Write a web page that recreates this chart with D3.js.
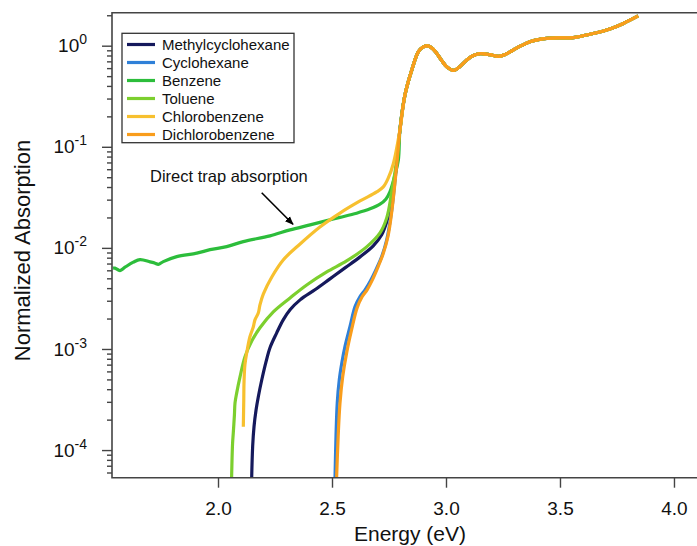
<!DOCTYPE html>
<html>
<head>
<meta charset="utf-8">
<script src="https://cdn.jsdelivr.net/npm/d3@7"></script>
<style>
  html, body { margin: 0; padding: 0; background: #fff; }
  svg { display: block; font-family: "Liberation Sans", Arial, sans-serif; }
</style>
</head>
<body>
<svg id="chart" width="697" height="546"></svg>
<script>
// ---------------- data ----------------
const seriesNames = ["Methylcyclohexane", "Cyclohexane", "Benzene", "Toluene", "Chlorobenzene", "Dichlorobenzene"];
const seriesColors = ["#15195c", "#2f80d8", "#2cbd3b", "#7ccf2e", "#f7c02f", "#f99d1c"];

// shared band-edge / excitonic part (all solvents overlap here)
const commonE = [2.798, 2.820, 2.850, 2.879, 2.899, 2.921, 2.943, 2.959, 2.980, 3.003, 3.035, 3.060, 3.091, 3.120, 3.150, 3.193, 3.230, 3.260, 3.295, 3.330, 3.368, 3.405, 3.442, 3.500, 3.558, 3.617, 3.665, 3.705, 3.745, 3.778, 3.843];
const commonA = [0.147, 0.326, 0.575, 0.873, 0.970, 0.995, 0.928, 0.841, 0.72, 0.620, 0.569, 0.62, 0.722, 0.80, 0.835, 0.815, 0.785, 0.82, 0.907, 1.00, 1.095, 1.15, 1.18, 1.195, 1.20, 1.276, 1.35, 1.43, 1.54, 1.66, 1.97];

const methylE = [2.147, 2.152, 2.158, 2.167, 2.177, 2.192, 2.2105, 2.228, 2.2575, 2.286, 2.316, 2.360, 2.425, 2.491, 2.557, 2.623, 2.681, 2.718, 2.740, 2.762, 2.784];
const methylA = [4.5e-5, 1.09e-4, 1.71e-4, 2.5e-4, 3.39e-4, 4.96e-4, 7.46e-4, 1.03e-3, 1.445e-3, 1.94e-3, 2.44e-3, 3.06e-3, 3.85e-3, 4.94e-3, 6.34e-3, 8.15e-3, 0.01047, 0.01346, 0.0181, 0.0298, 0.0692];

const cycloE = [2.5125, 2.5175, 2.523, 2.532, 2.543, 2.557, 2.579, 2.601, 2.623, 2.645, 2.667, 2.696, 2.718, 2.740, 2.762, 2.784];
const cycloA = [4.5e-5, 1.36e-4, 2.92e-4, 4.96e-4, 7.25e-4, 1.06e-3, 1.67e-3, 2.63e-3, 3.30e-3, 3.85e-3, 4.65e-3, 6.3e-3, 8.2e-3, 0.012, 0.0237, 0.0687];

const benzeneE = [1.5395, 1.548, 1.570, 1.592, 1.6285, 1.658, 1.702, 1.724, 1.738, 1.760, 1.819, 1.907, 1.965, 2.038, 2.111, 2.228, 2.316, 2.404, 2.477, 2.535, 2.608, 2.667, 2.7105, 2.737, 2.754, 2.776, 2.791];
const benzeneA = [6.3e-3, 6.3e-3, 5.97e-3, 6.44e-3, 7.22e-3, 7.66e-3, 7.27e-3, 7.06e-3, 6.87e-3, 7.32e-3, 8.2e-3, 8.87e-3, 9.6e-3, 0.0103, 0.01154, 0.01315, 0.01508, 0.01687, 0.01862, 0.02004, 0.02204, 0.02432, 0.02705, 0.0305, 0.0358, 0.0527, 0.0741];

const tolueneE = [2.059, 2.0636, 2.067, 2.072, 2.0746, 2.082, 2.0965, 2.118, 2.148, 2.184, 2.2425, 2.316, 2.389, 2.477, 2.564, 2.652, 2.7105, 2.740, 2.762, 2.784];
const tolueneA = [4.5e-5, 1.13e-4, 1.48e-4, 2.23e-4, 2.93e-4, 3.68e-4, 5.3e-4, 8.35e-4, 1.2e-3, 1.62e-3, 2.33e-3, 3.2e-3, 4.3e-3, 5.78e-3, 7.43e-3, 0.01023, 0.01406, 0.0198, 0.0358, 0.0741];

const chloroE = [2.111, 2.113, 2.114, 2.118, 2.126, 2.140, 2.155, 2.162, 2.177, 2.184, 2.199, 2.236, 2.286, 2.360, 2.447, 2.535, 2.623, 2.696, 2.725, 2.747, 2.769];
const chloroA = [1.70e-4, 3.14e-4, 4.62e-4, 6.97e-4, 9.16e-4, 1.32e-3, 1.66e-3, 1.94e-3, 2.28e-3, 2.73e-3, 3.51e-3, 5.16e-3, 7.6e-3, 0.01094, 0.0161, 0.0221, 0.0291, 0.0358, 0.0401, 0.0492, 0.068];

const dichloroE = [2.519, 2.527, 2.535, 2.547, 2.564, 2.586, 2.610, 2.632, 2.654, 2.675, 2.702, 2.724, 2.746, 2.763, 2.784];
const dichloroA = [4.5e-5, 1.36e-4, 2.92e-4, 5.34e-4, 9.1e-4, 1.55e-3, 2.55e-3, 3.28e-3, 3.85e-3, 4.72e-3, 6.5e-3, 8.7e-3, 0.01315, 0.0237, 0.066];

const energyTicks = [2.0, 2.5, 3.0, 3.5, 4.0];
const decadeTicks = [1e-4, 1e-3, 1e-2, 1e-1, 1];
const decadeExponents = ["-4", "-3", "-2", "-1", "0"];

const xTitle = "Energy (eV)";
const yTitle = "Normalized Absorption";
const annotationText = "Direct trap absorption";

// ---------------- layout ----------------
const svg = d3.select("#chart");
const pLeft = 112, pTop = 12.7, pRight = 697, pBottom = 477.7;

const x = d3.scaleLinear().domain([1.535, 4.101]).range([pLeft, pRight]);
const y = d3.scaleLog().domain([5.33e-5, 2.12]).range([pBottom, pTop]);

const lowParts = [[methylE, methylA], [cycloE, cycloA], [benzeneE, benzeneA], [tolueneE, tolueneA], [chloroE, chloroA], [dichloroE, dichloroA]];
const series = seriesNames.map((name, i) => {
  const [E, A] = lowParts[i];
  const pts = E.map((e, j) => ({ e, a: A[j] }));
  commonE.forEach((e, j) => pts.push({ e, a: commonA[j] }));
  return { name, color: seriesColors[i], pts };
});

const defs = svg.append("defs");
defs.append("clipPath").attr("id", "plotclip")
  .append("rect").attr("x", pLeft).attr("y", pTop).attr("width", pRight - pLeft).attr("height", pBottom - pTop);

const line = d3.line().x(d => x(d.e)).y(d => y(d.a)).curve(d3.curveCatmullRom.alpha(0.5));

const plot = svg.append("g").attr("clip-path", "url(#plotclip)");
plot.selectAll("path.series").data(series).enter().append("path")
  .attr("class", "series")
  .attr("d", d => line(d.pts))
  .attr("fill", "none")
  .attr("stroke", d => d.color)
  .attr("stroke-width", 3.2)
  .attr("stroke-linejoin", "round")
  .attr("stroke-linecap", "butt");

// ---------------- axes ----------------
const axisColor = "#444";
const minorTicks = [];
for (let p = -5; p <= 0; p++) {
  for (let m = 2; m <= 9; m++) {
    const v = m * Math.pow(10, p);
    if (v >= y.domain()[0] && v <= y.domain()[1]) minorTicks.push(v);
  }
}

const yMinor = svg.append("g").attr("transform", `translate(${pLeft},0)`)
  .call(d3.axisLeft(y).tickValues(minorTicks).tickSize(5).tickFormat(""));
const yMajor = svg.append("g").attr("transform", `translate(${pLeft},0)`)
  .call(d3.axisLeft(y).tickValues(decadeTicks).tickSize(10).tickPadding(15).tickFormat(() => ""));
yMajor.selectAll(".tick text").each(function (d) {
  const t = d3.select(this);
  t.text(null);
  t.append("tspan").text("10");
  t.append("tspan").attr("font-size", 14).attr("dy", -8).text(decadeExponents[decadeTicks.indexOf(d)]);
});
yMajor.selectAll(".tick text").attr("font-size", 19).attr("fill", "#111").attr("font-family", "Liberation Sans, Arial, sans-serif");

const xAxis = svg.append("g").attr("transform", `translate(0,${pBottom})`)
  .call(d3.axisBottom(x).tickValues(energyTicks).tickSize(10).tickPadding(13.5).tickFormat(d3.format(".1f")));
xAxis.selectAll(".tick text").attr("font-size", 19).attr("fill", "#111").attr("font-family", "Liberation Sans, Arial, sans-serif");

[yMinor, yMajor, xAxis].forEach(g => {
  g.selectAll(".domain").remove();
  g.selectAll(".tick line").attr("stroke", axisColor).attr("stroke-width", 1.4);
});

// frame lines: top, left, bottom
svg.append("path")
  .attr("d", `M${pRight},${pTop}H${pLeft}V${pBottom}H${pRight}`)
  .attr("fill", "none").attr("stroke", axisColor).attr("stroke-width", 1.6);

// titles
svg.append("text").attr("x", 410).attr("y", 540.5).attr("text-anchor", "middle")
  .attr("font-size", 21).attr("fill", "#111").text(xTitle);
svg.append("text").attr("transform", "translate(29.5,250.5) rotate(-90)").attr("text-anchor", "middle")
  .attr("font-size", 22).attr("fill", "#111").text(yTitle);

// ---------------- legend ----------------
const lg = svg.append("g");
lg.append("rect").attr("x", 122).attr("y", 33.3).attr("width", 172).attr("height", 109.4)
  .attr("fill", "#fff").attr("stroke", "#333").attr("stroke-width", 1.3);
series.forEach((s, i) => {
  const yy = 44.5 + i * 18;
  lg.append("line").attr("x1", 127).attr("x2", 155).attr("y1", yy).attr("y2", yy)
    .attr("stroke", s.color).attr("stroke-width", 3.2);
  lg.append("text").attr("x", 162).attr("y", yy + 5.3).attr("font-size", 15).attr("fill", "#111").text(s.name);
});

// ---------------- annotation ----------------
defs.append("marker").attr("id", "arrow")
  .attr("viewBox", "0 0 10 10").attr("refX", 9).attr("refY", 5)
  .attr("markerWidth", 5.5).attr("markerHeight", 5.5).attr("orient", "auto")
  .append("path").attr("d", "M0,1 L10,5 L0,9 z").attr("fill", "#000");
svg.append("text").attr("x", 150).attr("y", 181.5).attr("font-size", 16.5).attr("fill", "#111").text(annotationText);
svg.append("line").attr("x1", 261.7).attr("y1", 192.7).attr("x2", 293).attr("y2", 224.3)
  .attr("stroke", "#000").attr("stroke-width", 1.6).attr("marker-end", "url(#arrow)");
</script>
</body>
</html>
